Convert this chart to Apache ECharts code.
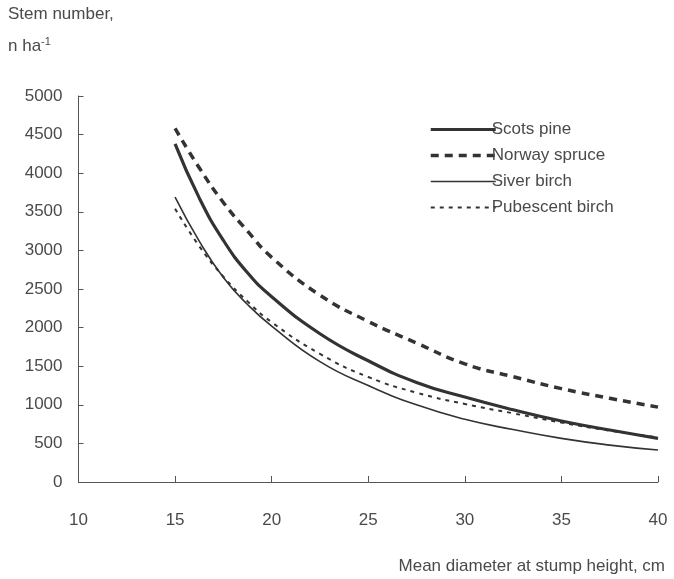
<!DOCTYPE html>
<html>
<head>
<meta charset="utf-8">
<script src="https://cdn.jsdelivr.net/npm/echarts@6/dist/echarts.min.js"></script>
<style>
html,body{margin:0;padding:0;background:#fff;}
#chart{width:674px;height:579px;}
</style>
</head>
<body>
<div id="chart"></div>
<script>
const diameters = [15, 16.25, 17.5, 18.75, 20, 22.5, 25, 27.5, 30, 32.5, 35, 37.5, 40];
const scotsPine = [4380, 3680, 3130, 2710, 2400, 1920, 1570, 1290, 1100, 935, 790, 673, 566];
const norwaySpruce = [4580, 4070, 3620, 3250, 2910, 2420, 2080, 1800, 1530, 1364, 1210, 1084, 970];
const silverBirch = [3690, 3120, 2650, 2300, 2020, 1560, 1250, 1000, 812, 680, 565, 478, 414];
const pubescentBirch = [3540, 3055, 2660, 2340, 2070, 1660, 1360, 1157, 1010, 890, 770, 665, 578];
const seriesNames = ['Scots pine', 'Norway spruce', 'Siver birch', 'Pubescent birch'];

function pairs(vals){ return diameters.map((d,i)=>[d, vals[i]]); }

const FONT = '"Liberation Sans", Arial, sans-serif';
const TXT = '#4a4a4a';
const LINE = '#333333';

const chart = echarts.init(document.getElementById('chart'), null, {renderer:'canvas'});
chart.setOption({
  animation:false,
  backgroundColor:'#fff',
  grid:{left:78.5, right:16, top:96, bottom:97},
  xAxis:{
    type:'value', min:10, max:40, interval:5,
    axisLine:{lineStyle:{color:'#555', width:1}},
    axisTick:{inside:true, length:6, lineStyle:{color:'#555'}},
    axisLabel:{color:TXT, fontFamily:FONT, fontSize:17, margin:30},
    splitLine:{show:false}
  },
  yAxis:{
    type:'value', min:0, max:5000, interval:500,
    axisLine:{show:true, lineStyle:{color:'#555', width:1}},
    axisTick:{show:true, inside:true, length:5, lineStyle:{color:'#555'}},
    axisLabel:{color:TXT, fontFamily:FONT, fontSize:17, margin:16, formatter:v=>String(v)},
    splitLine:{show:false}
  },
  legend:{
    orient:'vertical', left:424, top:116,
    itemWidth:65, itemHeight:14, itemGap:9,
    itemStyle:{opacity:0},
    lineStyle:{width:'inherit'},
    textStyle:{color:TXT, fontFamily:FONT, fontSize:17, padding:[0,0,0,-9]},
    data:seriesNames
  },
  series:[
    {name:seriesNames[0], type:'line', data:pairs(scotsPine), smooth:true, symbol:'none',
     lineStyle:{color:LINE, width:3.2, type:'solid'}, itemStyle:{color:LINE}},
    {name:seriesNames[1], type:'line', data:pairs(norwaySpruce), smooth:true, symbol:'none',
     lineStyle:{color:LINE, width:3.5, type:[8,6]}, itemStyle:{color:LINE}},
    {name:seriesNames[2], type:'line', data:pairs(silverBirch), smooth:true, symbol:'none',
     lineStyle:{color:LINE, width:1.6, type:'solid'}, itemStyle:{color:LINE}},
    {name:seriesNames[3], type:'line', data:pairs(pubescentBirch), smooth:true, symbol:'none',
     lineStyle:{color:LINE, width:2, type:[4,5]}, itemStyle:{color:LINE}}
  ],
  graphic:[
    {type:'text', left:8, top:6, style:{text:'Stem number,', fill:TXT, font:'17px '+FONT}},
    {type:'text', left:8, top:36, style:{
      text:'n ha{sup|-1}', fill:TXT, font:'17px '+FONT,
      rich:{sup:{fontSize:11, fontFamily:FONT, fill:TXT, verticalAlign:'top', padding:[0,0,10,0]}}
    }},
    {type:'text', right:9, top:558, style:{text:'Mean diameter at stump height, cm', fill:TXT, font:'17px '+FONT}}
  ]
});
</script>
</body>
</html>
